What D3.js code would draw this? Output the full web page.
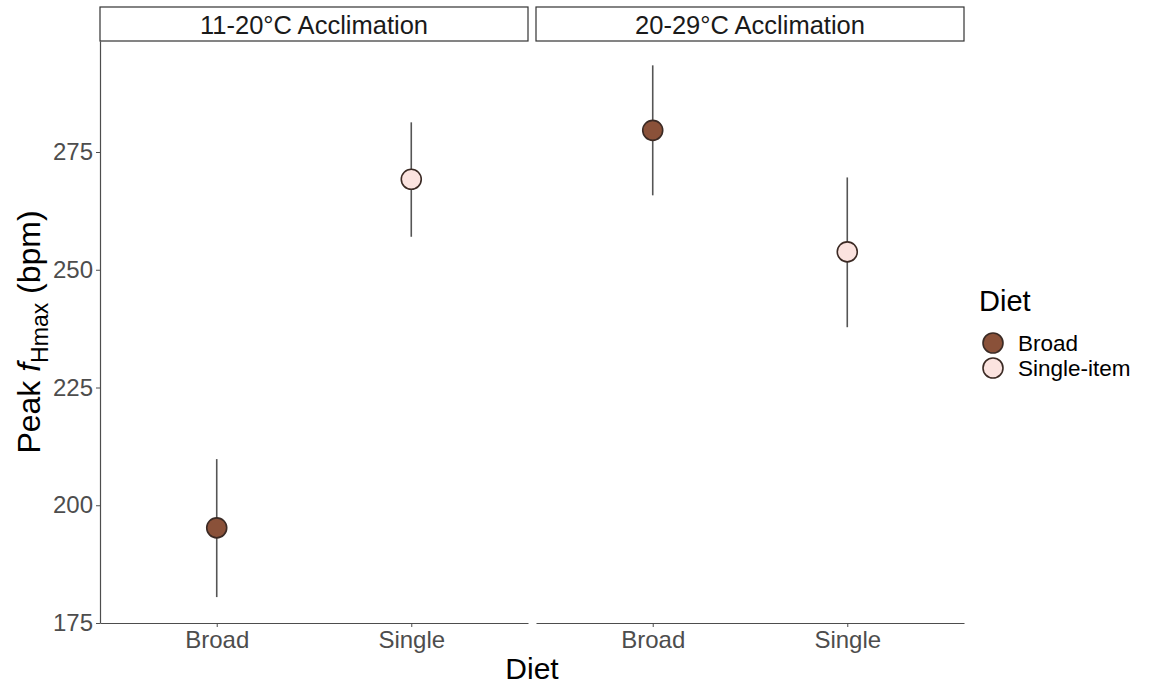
<!DOCTYPE html>
<html>
<head>
<meta charset="utf-8">
<script src="https://cdn.jsdelivr.net/npm/d3@7"></script>
<style>
  body { margin: 0; background: #fff; }
  text { font-family: "Liberation Sans", Arial, sans-serif; }
</style>
</head>
<body>
<div id="chart"></div>
<script>
// Data
const panels = ["11-20°C Acclimation", "20-29°C Acclimation"];
const dietCats = ["Broad", "Single"];
const legendLabels = ["Broad", "Single-item"];
const means = [[195.2, 269.2], [279.6, 253.8]];
const lowers = [[180.5, 257.0], [265.8, 237.8]];
const uppers = [[209.8, 281.3], [293.4, 269.6]];
const yTicks = [175, 200, 225, 250, 275];
const fills = ["#8a5139", "#fbe3df"];

const W = 1153, H = 685;
const panelW = 428, gap = 8;
const plotTop = 41, plotBottom = 623, plotLeft = 100;

const svg = d3.select("#chart").append("svg")
  .attr("width", W).attr("height", H);

// 25 units ~ 117.7 px
const y = d3.scaleLinear()
  .domain([175, 175 + (plotBottom - plotTop) / 4.71])
  .range([plotBottom, plotTop]);

// Y axis
const yAxis = svg.append("g")
  .attr("transform", `translate(${plotLeft},0)`)
  .call(d3.axisLeft(y).tickValues(yTicks).tickSize(4).tickSizeOuter(0));
yAxis.select(".domain").attr("stroke", "#4d4d4d").attr("stroke-width", 1.2);
yAxis.selectAll(".tick line").attr("stroke", "#4d4d4d");
yAxis.selectAll(".tick text").attr("fill", "#4d4d4d").attr("font-size", 24)
  .attr("font-family", "Liberation Sans, Arial, sans-serif").attr("x", -7);

panels.forEach((p, pi) => {
  const x0 = plotLeft + pi * (panelW + gap);
  const x = d3.scalePoint().domain(dietCats).range([x0, x0 + panelW]).padding(0.6);

  // strip
  svg.append("rect")
    .attr("x", x0).attr("y", 7).attr("width", panelW).attr("height", plotTop - 7)
    .attr("fill", "#fff").attr("stroke", "#333").attr("stroke-width", 1.2);
  svg.append("text")
    .attr("x", x0 + panelW / 2).attr("y", 34)
    .attr("text-anchor", "middle").attr("font-size", 25.5).attr("fill", "#1a1a1a")
    .text(p);

  // x axis
  const xAxis = svg.append("g")
    .attr("transform", `translate(0,${plotBottom})`)
    .call(d3.axisBottom(x).tickSize(4).tickSizeOuter(0));
  xAxis.select(".domain").attr("stroke", "#4d4d4d").attr("stroke-width", 1.2);
  xAxis.selectAll(".tick line").attr("stroke", "#4d4d4d");
  xAxis.selectAll(".tick text").attr("fill", "#4d4d4d").attr("font-size", 24)
    .attr("font-family", "Liberation Sans, Arial, sans-serif")
    .attr("y", 8).attr("dy", "0.71em");

  // error bars
  dietCats.forEach((c, ci) => {
    svg.append("line")
      .attr("x1", x(c)).attr("x2", x(c))
      .attr("y1", y(lowers[pi][ci])).attr("y2", y(uppers[pi][ci]))
      .attr("stroke", "#555").attr("stroke-width", 1.6);
  });
  dietCats.forEach((c, ci) => {
    svg.append("circle")
      .attr("cx", x(c)).attr("cy", y(means[pi][ci])).attr("r", 10)
      .attr("fill", fills[ci]).attr("stroke", "#3b2a24").attr("stroke-width", 1.6);
  });
});

// axis titles
svg.append("text")
  .attr("x", plotLeft + panelW + gap / 2).attr("y", 679)
  .attr("text-anchor", "middle").attr("font-size", 30).attr("fill", "#000")
  .text("Diet");

const yt = svg.append("text")
  .attr("transform", `translate(40,${(plotTop + plotBottom) / 2}) rotate(-90)`)
  .attr("text-anchor", "middle").attr("font-size", 32).attr("fill", "#000");
yt.append("tspan").text("Peak ");
yt.append("tspan").attr("font-style", "italic").text("f");
yt.append("tspan").attr("font-size", 23).attr("dy", 8).text("Hmax");
yt.append("tspan").attr("dy", -8).text(" (bpm)");

// legend
svg.append("text")
  .attr("x", 979).attr("y", 311).attr("font-size", 29).attr("fill", "#000")
  .text("Diet");
const lg = svg.selectAll(".lg").data(legendLabels).enter().append("g")
  .attr("transform", (d, i) => `translate(993,${343 + i * 25})`);
lg.append("circle").attr("r", 10)
  .attr("fill", (d, i) => fills[i]).attr("stroke", "#3b2a24").attr("stroke-width", 1.6);
lg.append("text").attr("x", 25).attr("y", 8).attr("font-size", 22.5).attr("fill", "#000")
  .text(d => d);
</script>
</body>
</html>
